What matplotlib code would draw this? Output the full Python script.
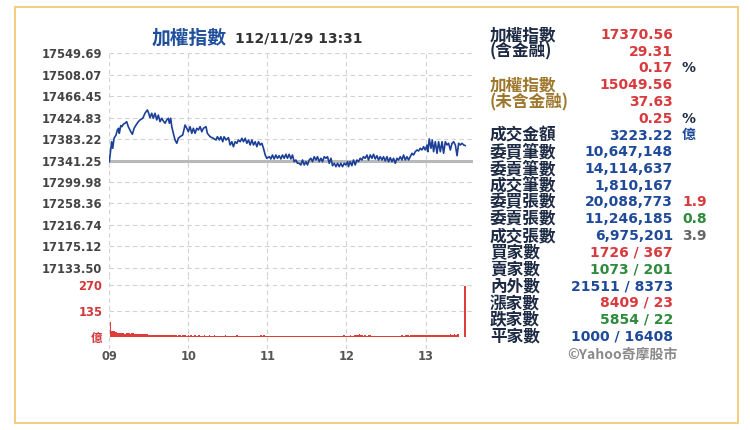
import matplotlib
matplotlib.use('Agg')
from matplotlib import pyplot as plt
from matplotlib.patches import Rectangle

# minutes after 09:00 and index level
price_t = [0, 1.8, 2.6, 3.6, 5.1, 6.1, 7.1, 7.6, 8.7, 9.6, 10.6, 11.9, 13.2, 14.4, 16.3, 17.5, 18.8, 20.3,
           22.0, 23.3, 25.4, 27.1, 28.9, 29.9, 30.9, 32.2, 33.4, 34.7, 36.0, 37.2, 38.5, 39.8, 41.0, 42.3,
           43.6, 44.8, 45.6, 46.6, 47.4, 48.6, 49.9, 51.2, 52.4, 53.7, 55.7, 57.5, 58.8, 60.0, 61.3, 62.6,
           63.8, 65.1, 66.4, 67.6, 68.9, 70.2, 71.4, 73.4, 74.4, 76.5, 79.0, 81.0, 82.0, 83.5, 84.6, 86.1,
           87.1, 88.6, 90.4, 91.7, 93.0, 94.2, 95.5, 96.8, 98.0, 99.3, 100.6, 101.8, 103.1, 104.4, 105.6,
           106.9, 108.2, 109.4, 110.7, 112.0, 113.2, 114.5, 115.8, 117.0, 118.3, 119.5, 121.5, 122.6, 123.8,
           125.1, 126.4, 127.6, 128.9, 130.2, 131.4, 132.7, 134.0, 135.2, 136.5, 137.8, 139.0, 140.3, 141.6,
           142.8, 144.1, 145.4, 146.6, 147.9, 149.2, 150.4, 151.7, 153.0, 154.2, 155.5, 156.8, 158.0, 159.3,
           160.6, 161.8, 163.1, 164.4, 165.6, 166.9, 168.2, 169.4, 170.7, 172.0, 173.2, 174.5, 175.7, 177.0,
           178.3, 179.5, 180.8, 181.5, 182.8, 184.1, 185.3, 186.6, 187.9, 189.1, 190.4, 191.7, 192.9, 194.2,
           195.5, 196.7, 198.0, 199.3, 200.5, 201.8, 203.1, 204.3, 205.6, 206.9, 208.1, 209.4, 210.7, 211.9,
           213.2, 214.5, 215.7, 217.0, 218.3, 219.5, 220.8, 222.1, 223.3, 224.6, 225.9, 227.1, 228.4, 229.7,
           230.9, 232.2, 233.5, 234.7, 236.0, 237.3, 238.5, 239.8, 241.1, 241.8, 242.8, 244.1, 245.1, 246.1,
           247.4, 248.7, 249.9, 251.2, 252.5, 253.7, 255.0, 256.3, 257.5, 258.8, 260.1, 261.3, 262.6, 263.9,
           265.1, 266.4, 267.6, 268.9, 270.0]
price = [17339.3, 17378.1, 17365.3, 17384.7, 17391.1, 17400.8, 17404.1, 17394.4, 17409.2, 17407.3, 17411.9,
         17413.9, 17416.9, 17407.3, 17397.5, 17392.5, 17404.1, 17410.5, 17416.9, 17420.3, 17423.6, 17433.3,
         17439.7, 17433.3, 17424.7, 17433.3, 17423.6, 17433.3, 17420.3, 17429.8, 17416.9, 17423.6, 17418.3,
         17413.9, 17420.3, 17423.6, 17413.9, 17423.6, 17407.3, 17394.4, 17381.4, 17375.0, 17384.7, 17387.8,
         17391.1, 17410.5, 17404.1, 17397.5, 17407.3, 17394.4, 17404.1, 17394.4, 17404.1, 17400.8, 17407.3,
         17397.5, 17404.1, 17407.3, 17394.4, 17387.8, 17384.7, 17381.4, 17387.8, 17381.4, 17387.8, 17378.1,
         17387.8, 17381.4, 17385.9, 17371.7, 17378.1, 17368.4, 17378.1, 17375.0, 17381.4, 17378.1, 17384.7,
         17378.1, 17384.7, 17375.0, 17381.4, 17371.7, 17381.4, 17371.7, 17378.1, 17368.4, 17378.1, 17371.7,
         17375.0, 17365.3, 17352.3, 17345.9, 17349.0, 17344.6, 17352.3, 17344.6, 17352.3, 17345.9, 17350.9,
         17344.6, 17352.3, 17345.9, 17353.7, 17345.9, 17353.7, 17344.6, 17352.3, 17339.3, 17342.6, 17336.2,
         17336.2, 17332.9, 17342.6, 17332.9, 17339.3, 17332.9, 17342.6, 17345.9, 17339.3, 17349.0, 17342.6,
         17349.0, 17339.3, 17345.9, 17339.3, 17349.0, 17345.9, 17349.0, 17336.2, 17345.9, 17331.5, 17336.2,
         17329.6, 17336.2, 17329.6, 17336.2, 17329.6, 17336.2, 17332.9, 17339.3, 17329.6, 17339.3, 17331.5,
         17342.6, 17332.9, 17342.6, 17339.3, 17345.9, 17342.6, 17349.0, 17345.9, 17352.3, 17342.6, 17352.3,
         17345.9, 17353.7, 17344.6, 17350.9, 17342.6, 17349.0, 17342.6, 17349.0, 17340.7, 17349.0, 17339.3,
         17347.1, 17339.3, 17345.9, 17336.2, 17345.9, 17342.6, 17349.0, 17342.6, 17352.3, 17342.6, 17349.0,
         17342.6, 17349.0, 17355.6, 17352.3, 17358.7, 17362.0, 17360.1, 17365.3, 17362.0, 17368.4, 17362.0,
         17371.7, 17358.7, 17383.4, 17365.3, 17381.4, 17358.7, 17378.1, 17355.6, 17378.1, 17358.7, 17378.1,
         17355.6, 17378.1, 17371.7, 17375.0, 17362.0, 17375.0, 17378.1, 17371.7, 17350.9, 17375.0, 17371.7,
         17375.0, 17371.7, 17370.6]
prev_close = 17341.25

# turnover per minute (億), minutes 1..270
volume = [81, 34, 33, 35, 30, 22, 21, 23, 20, 22, 21, 19, 22, 20, 21, 18, 20, 22, 17, 16, 18, 17, 15, 18, 16, 17, 15, 16, 17, 14,
          13, 12, 14, 12, 11, 13, 12, 14, 11, 12, 13, 10, 12, 11, 13, 12, 10, 11, 12, 13, 10, 9, 11, 10, 9, 11, 10, 12, 9, 10,
          9, 10, 8, 9, 11, 9, 8, 10, 9, 8, 9, 10, 8, 9, 8, 10, 9, 8, 9, 10, 9, 8, 9, 7, 8, 9, 8, 10, 9, 8,
          8, 9, 8, 7, 9, 8, 10, 8, 7, 8, 9, 8, 7, 9, 8, 7, 8, 9, 7, 8, 9, 8, 7, 8, 10, 9, 11, 10, 9, 8,
          9, 8, 7, 8, 9, 7, 8, 7, 8, 9, 7, 8, 7, 8, 9, 7, 6, 7, 8, 7, 6, 8, 7, 9, 8, 7, 6, 7, 8, 7,
          7, 8, 6, 7, 8, 7, 9, 7, 6, 8, 7, 8, 7, 6, 8, 9, 7, 8, 6, 7, 8, 7, 6, 7, 8, 9, 8, 10, 9, 8,
          8, 9, 10, 8, 9, 11, 12, 10, 14, 15, 13, 11, 9, 10, 8, 9, 11, 10, 9, 8, 9, 8, 7, 8, 9, 8, 7, 8, 9, 8,
          8, 7, 9, 8, 7, 8, 9, 8, 7, 9, 8, 10, 9, 8, 10, 11, 10, 9, 11, 12, 10, 11, 12, 11, 10, 12, 11, 13, 12, 11,
          12, 13, 11, 12, 14, 13, 12, 11, 13, 12, 14, 13, 12, 11, 13, 14, 12, 13, 15, 14, 13, 16, 14, 17, 19, 0, 0, 0, 0, 266]
volume_t = list(range(1, len(volume) + 1))

price_ticks = [17133.50, 17175.12, 17216.74, 17258.36, 17299.98, 17341.25, 17383.22, 17424.83,
               17466.45, 17508.07, 17549.69]
vol_ticks = [0, 135, 270]
vol_tick_labels = ['億', '135', '270']
hour_ticks = [0, 60, 120, 180, 240]
hour_labels = ['09', '10', '11', '12', '13']

# side panel
row_labels = ['加權指數', '(含金融)', '', '加權指數', '(未含金融)', '', '成交金額', '委買筆數', '委賣筆數',
              '成交筆數', '委買張數', '委賣張數', '成交張數', '買家數', '賣家數', '內外數', '漲家數',
              '跌家數', '平家數']
row_values = ['17370.56', '29.31', '0.17', '15049.56', '37.63', '0.25', '3223.22', '10,647,148',
              '14,114,637', '1,810,167', '20,088,773', '11,246,185', '6,975,201', '1726 / 367',
              '1073 / 201', '21511 / 8373', '8409 / 23', '5854 / 22', '1000 / 16408']
row_suffix = ['', '', '%', '', '', '%', '億', '', '', '', '1.9', '0.8', '3.9', '', '', '', '', '', '']

RED = '#d83a3e'
BLUE = '#1f4a99'
GREEN = '#2e8a3c'
NAVY = '#1d2a44'
BROWN = '#9e772c'
GRAY = '#666666'
label_colors = [NAVY] * 3 + [BROWN] * 3 + [NAVY] * 13
value_colors = [RED] * 6 + [BLUE] * 7 + [RED, GREEN, BLUE, RED, GREEN, BLUE]
suffix_colors = [NAVY, NAVY, NAVY, NAVY, NAVY, NAVY, BLUE, NAVY, NAVY, NAVY, RED, GREEN, GRAY] + [NAVY] * 6

CJK = ['Noto Sans CJK TC', 'DejaVu Sans']
NUM = ['DejaVu Sans', 'Noto Sans CJK TC']

W, H = 750, 430
fig = plt.figure(figsize=(7.5, 4.3), dpi=100)
fig.patch.set_facecolor('white')


def fx(px):
    return px / W


def fy(py):
    return 1 - py / H


fig.patches.append(Rectangle((fx(15), fy(423)), fx(738) - fx(15), fy(7) - fy(423),
                             transform=fig.transFigure, fill=False, edgecolor='#f6c774', lw=1.3))

left, right = 109.3, 473
ax = fig.add_axes([fx(left), fy(276), fx(right - left), fy(53.3) - fy(276)])
axv = fig.add_axes([fx(left), fy(349), fx(right - left), fy(276) - fy(349)])

grid_kw = dict(color='#d2d2d2', lw=0.8, linestyle=(0, (4, 3)))

ax.plot(price_t, price, color='#1c3f98', lw=1.2, zorder=3)
ax.axhline(prev_close, color='#b9b9b9', lw=2.2, zorder=2)
ax.set_xlim(0, 276)
ax.set_ylim(17549.69 - (276 - 53.3) * 1.9412, 17549.69)
ax.set_yticks(price_ticks)
ax.set_yticklabels([f'{v:.2f}' for v in price_ticks])
ax.set_xticks(hour_ticks)
ax.tick_params(axis='x', length=0, labelbottom=False)
ax.tick_params(axis='y', length=0, pad=5, labelsize=8.3, labelcolor='#444444')
for lab in ax.get_yticklabels():
    lab.set_fontweight('bold')
ax.grid(True, **grid_kw)

axv.bar(volume_t, volume, width=1.0, color='#e03c3c', linewidth=0, antialiased=False, zorder=3)
axv.set_xlim(0, 276)
axv.set_ylim(-(349 - 337.3) * 5.192, 270 + (285.3 - 276) * 5.192)
axv.set_yticks(vol_ticks)
axv.set_yticklabels(vol_tick_labels)
axv.set_xticks(hour_ticks)
axv.set_xticklabels(hour_labels)
axv.tick_params(axis='y', length=0, pad=5, labelsize=8.3, labelcolor='#d2363a')
axv.tick_params(axis='x', length=0, pad=1, labelsize=8.3, labelcolor='#555555')
for lab in axv.get_yticklabels() + axv.get_xticklabels():
    lab.set_fontweight('bold')
    lab.set_family(NUM)
axv.grid(True, **grid_kw)
axv.get_ygridlines()[0].set_visible(False)

for a in (ax, axv):
    a.set_facecolor('none')
    for s in a.spines.values():
        s.set_visible(False)

# title
fig.text(fx(152), fy(38), '加權指數', family=CJK, fontsize=13.5, fontweight='bold', color='#1f4e9c',
         ha='left', va='center')
fig.text(fx(235), fy(38), '112/11/29 13:31', family=NUM, fontsize=10, fontweight='bold', color='#333333',
         ha='left', va='center')

# side panel
for i, (lab, val, suf) in enumerate(zip(row_labels, row_values, row_suffix)):
    y = fy(35 + 16.75 * i)
    if lab:
        fig.text(fx(490), y, lab, family=CJK, fontsize=12, fontweight='bold', color=label_colors[i],
                 ha='left', va='center')
    fig.text(fx(673), y, val, family=NUM, fontsize=10, fontweight='bold', color=value_colors[i],
             ha='right', va='center')
    if suf:
        fig.text(fx(682), y, suf, family=NUM, fontsize=10, fontweight='bold', color=suffix_colors[i],
                 ha='left', va='center')

fig.text(fx(677), fy(355), '©Yahoo奇摩股市', family=CJK, fontsize=10, fontweight='bold', color='#8a8a8a',
         ha='right', va='center')

fig.savefig('out.png', dpi=100)
